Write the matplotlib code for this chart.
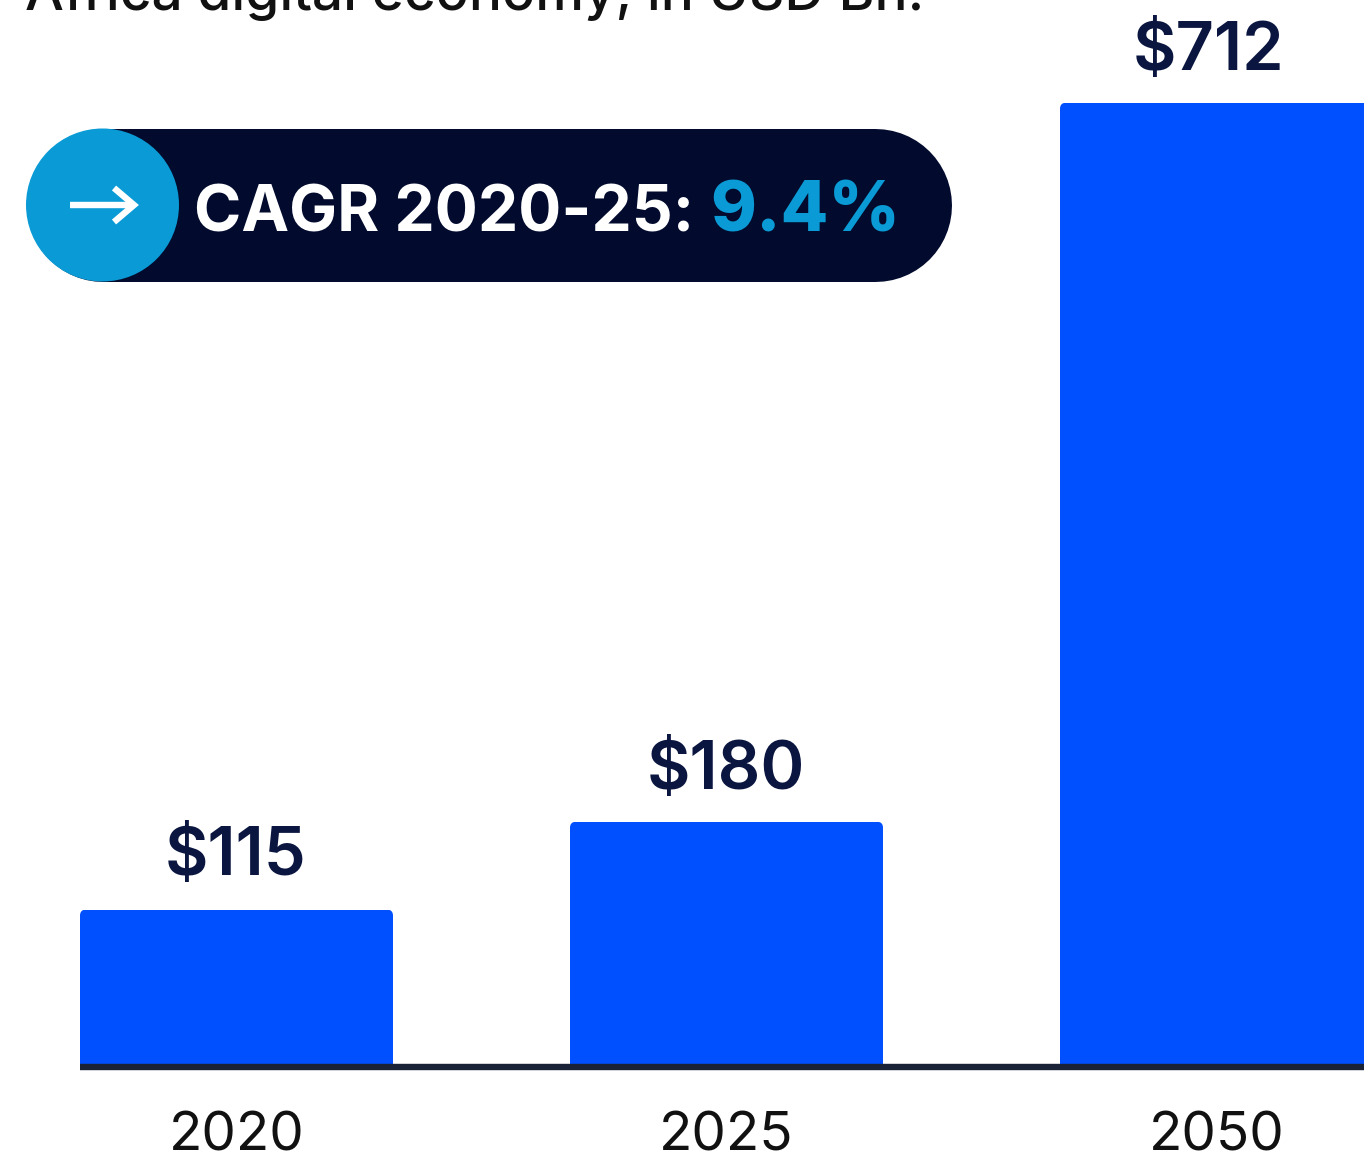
import matplotlib
matplotlib.use("Agg")
import matplotlib.pyplot as plt
from matplotlib.patches import FancyBboxPatch, Circle
from matplotlib.transforms import Affine2D

years = ["2020", "2025", "2050"]
values = [115, 180, 712]
value_labels = ["$115", "$180", "$712"]
title = "Africa digital economy, in USD Bn."
cagr_text = "CAGR 2020-25:"
cagr_value = "9.4%"

W, H = 1364, 1155
plt.rcParams['font.family'] = ['Inter', 'DejaVu Sans']
fig = plt.figure(figsize=(W / 100, H / 100), dpi=100, facecolor='white')
ax = fig.add_axes([0, 0, 1, 1])
ax.axis('off')

# scales: category spacing and value scale in pixels
step, x0, bar_w = 490.0, 236.5, 313.0
yscale, base = 1.3515, 1065.0
ax.set_xlim(-x0 / step, (W - x0) / step)
ax.set_ylim(-(H - base) / yscale, base / yscale)
wd = bar_w / step
px = Affine2D().scale(1, -1).translate(0, H)  # pixel coordinates, y down

xs = list(range(len(values)))
bars = ax.bar(xs, values, width=wd, color='#0050ff', linewidth=0, zorder=2)
r = 6.0
for b in bars:
    clip = FancyBboxPatch((b.get_x(), -10), b.get_width(), b.get_height() + 10,
                          boxstyle=f"round,pad=0,rounding_size={r / step}",
                          mutation_aspect=(step / yscale),
                          transform=ax.transData, fc='none', ec='none')
    ax.add_patch(clip)
    b.set_clip_path(clip)

ax.plot([xs[0] - wd / 2, (W - x0) / step], [-1.5, -1.5], color='#1a2238', lw=4.6,
        solid_capstyle='butt', zorder=3)

label_dx = [-1, -1, -8]
label_dy = [35, 33, 33]
for x, v, lab, yr, dx, dy in zip(xs, values, value_labels, years, label_dx, label_dy):
    ax.annotate(lab, (x, v), xytext=(dx, dy), textcoords='offset pixels', ha='center', va='baseline',
                fontsize=48, fontweight='semibold', color='#0b1640', zorder=4)
    ax.text(x, -63, yr, ha='center', va='baseline', fontsize=39.5, color='#111111', zorder=4)

# title, cut by the top edge
fig.text(25, 10, title, transform=px, fontsize=39.5, fontweight='medium', color='#111111',
         ha='left', va='baseline')

# CAGR pill: a thick line with round caps gives true semicircular ends
fig.add_artist(plt.Line2D([102.5, 874.5], [205, 205], transform=px, color='#020b2e',
                          lw=153 * 0.72, solid_capstyle='round', zorder=5))
fig.add_artist(Circle((102.5, 205), 76.5, transform=px, fc='#0a9bd6', ec='none', zorder=6))
for xx, yy in ([[70, 133], [205, 205]], [[114, 134, 114], [188, 205, 222]]):
    fig.add_artist(plt.Line2D(xx, yy, transform=px, color='white', lw=4.6, zorder=7,
                              solid_capstyle='butt', solid_joinstyle='miter'))
fig.text(194, 232, cagr_text, transform=px, fontsize=46.1, fontweight='bold', color='white',
         ha='left', va='baseline', zorder=7)
fig.text(710, 232, cagr_value, transform=px, fontsize=50, fontweight='heavy', color='#0a9bd6',
         ha='left', va='baseline', zorder=7)

fig.savefig('out.png', dpi=100, facecolor='white')
